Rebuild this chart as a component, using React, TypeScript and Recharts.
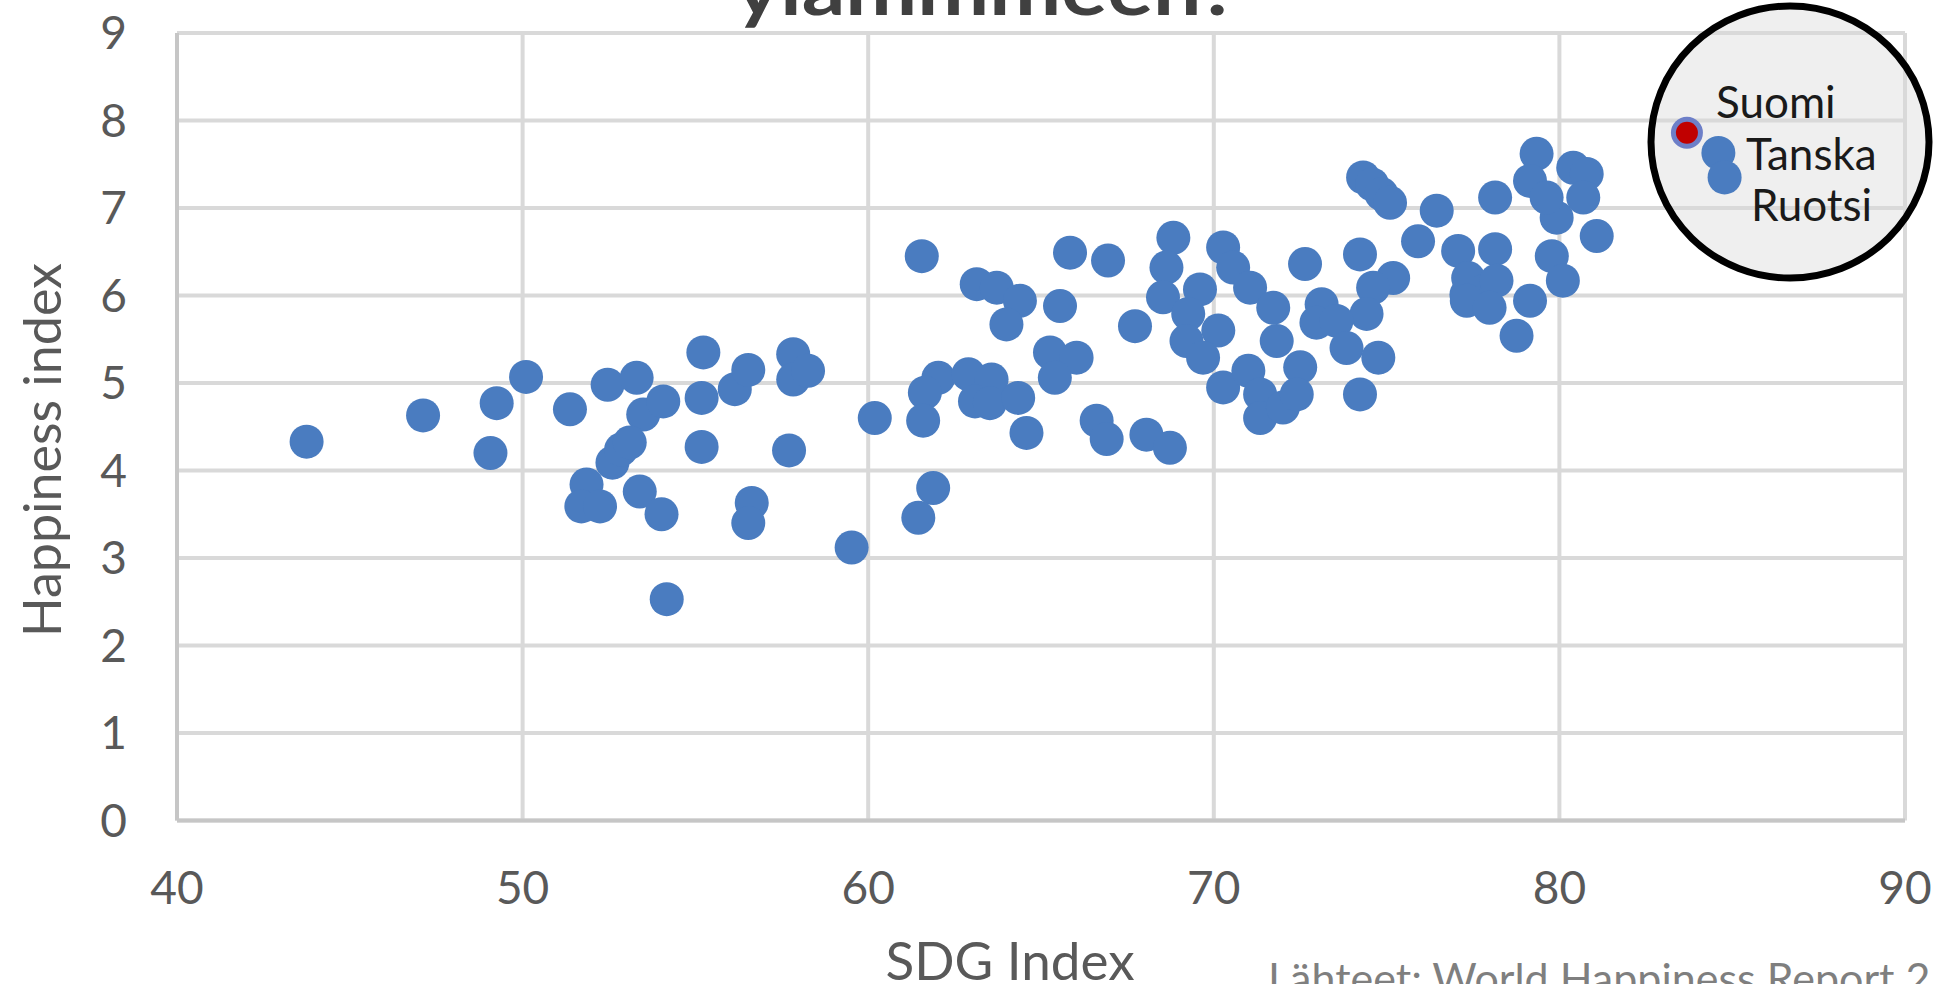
// SDG Index vs Happiness index -scatter
import { CartesianGrid, Scatter, ScatterChart, XAxis, YAxis } from 'recharts';

const BLUE = '#4a7cc0';
const FONT = 'Lato, "Open Sans", sans-serif';

const xTicks = [40, 50, 60, 70, 80, 90];
const yTicks = [0, 1, 2, 3, 4, 5, 6, 7, 8, 9];

// SDG Index per country
const sdg = [
  43.75, 47.12, 49.25, 49.07, 50.1, 51.37, 52.46, 53.3, 53.49, 54.07,
  52.6, 52.85, 53.1, 51.85, 51.7, 52.24, 53.39, 54.02, 55.23, 55.18,
  56.14, 56.53, 57.83, 57.83, 58.26, 60.19, 55.18, 57.71, 56.63, 56.53,
  59.52, 54.17, 61.55, 63.14, 63.72, 64.39, 64.0, 65.55, 65.84, 66.94,
  65.26, 66.03, 65.4, 62.03, 61.64, 61.59, 62.9, 63.57, 63.09, 63.52,
  64.34, 64.58, 66.61, 66.9, 61.88, 61.45, 67.72, 68.83, 68.63, 69.6,
  68.53, 69.26, 69.21, 70.13, 69.69, 70.27, 70.27, 70.56, 71.05, 71.72,
  71.82, 71.0, 72.5, 71.34, 71.34, 72.0, 72.4, 72.64, 68.05, 68.73,
  74.32, 74.58, 74.85, 75.1, 76.45, 75.91, 77.07, 77.31, 74.23, 75.19,
  74.61, 74.42, 73.12, 72.97, 73.55, 73.84, 74.76, 74.23, 79.34, 79.15,
  80.4, 80.79, 80.69, 79.92, 79.63, 81.08, 78.14, 78.14, 77.36, 77.8,
  77.32, 78.18, 77.98, 79.15, 78.76, 79.78, 80.1,
];

// Happiness index per country (same order)
const happiness = [
  4.33, 4.63, 4.77, 4.2, 5.07, 4.7, 4.98, 5.06, 4.64, 4.79,
  4.09, 4.24, 4.32, 3.84, 3.59, 3.59, 3.76, 3.5, 5.35, 4.83,
  4.93, 5.15, 5.33, 5.04, 5.14, 4.6, 4.27, 4.23, 3.63, 3.4,
  3.12, 2.53, 6.45, 6.13, 6.09, 5.94, 5.67, 5.88, 6.49, 6.4,
  5.35, 5.29, 5.06, 5.06, 4.89, 4.57, 5.1, 5.04, 4.79, 4.77,
  4.83, 4.43, 4.57, 4.36, 3.8, 3.46, 5.65, 6.66, 6.32, 6.07,
  5.98, 5.79, 5.48, 5.6, 5.29, 4.95, 6.55, 6.32, 6.09, 5.86,
  5.48, 5.14, 5.18, 4.87, 4.6, 4.72, 4.87, 6.36, 4.41, 4.26,
  7.35, 7.27, 7.16, 7.06, 6.97, 6.62, 6.51, 6.01, 6.47, 6.2,
  6.09, 5.79, 5.9, 5.69, 5.71, 5.4, 5.29, 4.87, 7.62, 7.31,
  7.46, 7.39, 7.12, 6.89, 7.12, 6.68, 7.12, 6.53, 6.2, 6.05,
  5.94, 6.17, 5.86, 5.94, 5.54, 6.45, 6.17,
];

// Pohjoismaat, jotka on nostettu esiin
const namedCountries = ['Suomi', 'Tanska', 'Ruotsi'];
const namedSdg = [83.69, 84.6, 84.78];
const namedHappiness = [7.86, 7.63, 7.35];

const points = sdg.map((x, i) => ({ x, y: happiness[i] }));
const named = namedCountries.map((name, i) => ({ name, x: namedSdg[i], y: namedHappiness[i] }));
const finland = named.filter(d => d.name === 'Suomi');
const others = named.filter(d => d.name !== 'Suomi');

const BlueDot = (p: any) => <circle cx={p.cx} cy={p.cy} r={17} fill={BLUE} />;
const RedDot = (p: any) => (
  <g>
    <circle cx={p.cx} cy={p.cy} r={16} fill="#6d7fc8" />
    <circle cx={p.cx} cy={p.cy} r={11} fill="#c00000" />
  </g>
);

const tickStyle = { fill: '#595959', fontSize: 46, fontFamily: FONT };

export default function App() {
  return (
    <div style={{ position: 'absolute', left: 0, top: 0, width: 1936, height: 984, overflow: 'hidden', background: '#fff' }}>
      {/* ympyrän täyttö gridin alle */}
      <svg width={1936} height={984} style={{ position: 'absolute', left: 0, top: 0 }}>
        <ellipse cx={1790} cy={142} rx={139} ry={136} fill="#e8e8e8" opacity={0.7} />
      </svg>
      <div style={{ position: 'absolute', left: 0, top: 0 }}>
        <ScatterChart width={1936} height={984} margin={{ top: 33, right: 31, bottom: 103.5, left: 77 }}>
          <CartesianGrid stroke="#d9d9d9" strokeWidth={4} />
          <XAxis
            type="number" dataKey="x" domain={[40, 90]} ticks={xTicks} height={60}
            axisLine={{ stroke: '#c6c6c6', strokeWidth: 4 }} tickLine={false}
            tickSize={0} tickMargin={51} tick={tickStyle} interval={0}
          />
          <YAxis
            type="number" dataKey="y" domain={[0, 9]} ticks={yTicks} width={100}
            axisLine={{ stroke: '#c6c6c6', strokeWidth: 4 }} tickLine={false}
            tickSize={0} tickMargin={50} tick={tickStyle} interval={0}
          />
          <Scatter data={points} shape={BlueDot} isAnimationActive={false} />
          <Scatter data={others} shape={BlueDot} isAnimationActive={false} />
          <Scatter data={finland} shape={RedDot} isAnimationActive={false} />
        </ScatterChart>
      </div>
      <svg width={1936} height={984} style={{ position: 'absolute', left: 0, top: 0, pointerEvents: 'none' }}>
        <text x={987} y={15} textAnchor="middle" fontFamily={FONT} fontWeight="bold" fontSize={72}
          fill="#404040" textLength={504} lengthAdjust="spacingAndGlyphs">ylämmmeen?</text>
        <ellipse cx={1790} cy={142} rx={139} ry={136} fill="none" stroke="#000" strokeWidth={7} />
        <text x={1716} y={118} fontFamily={FONT} fontSize={44} fill="#1a1a1a">Suomi</text>
        <text x={1746} y={170} fontFamily={FONT} fontSize={44} fill="#1a1a1a">Tanska</text>
        <text x={1751} y={221} fontFamily={FONT} fontSize={44} fill="#1a1a1a">Ruotsi</text>
        <text x={41} y={450} transform="rotate(-90 41 450)" textAnchor="middle" dominantBaseline="central"
          fontFamily={FONT} fontSize={52} fill="#595959">Happiness index</text>
        <text x={1010} y={980} textAnchor="middle" fontFamily={FONT} fontSize={53} fill="#595959">SDG Index</text>
        <text x={1268} y={994} fontFamily={FONT} fontSize={43} fill="#7f7f7f">Lähteet: World Happiness Report 2</text>
      </svg>
    </div>
  );
}
